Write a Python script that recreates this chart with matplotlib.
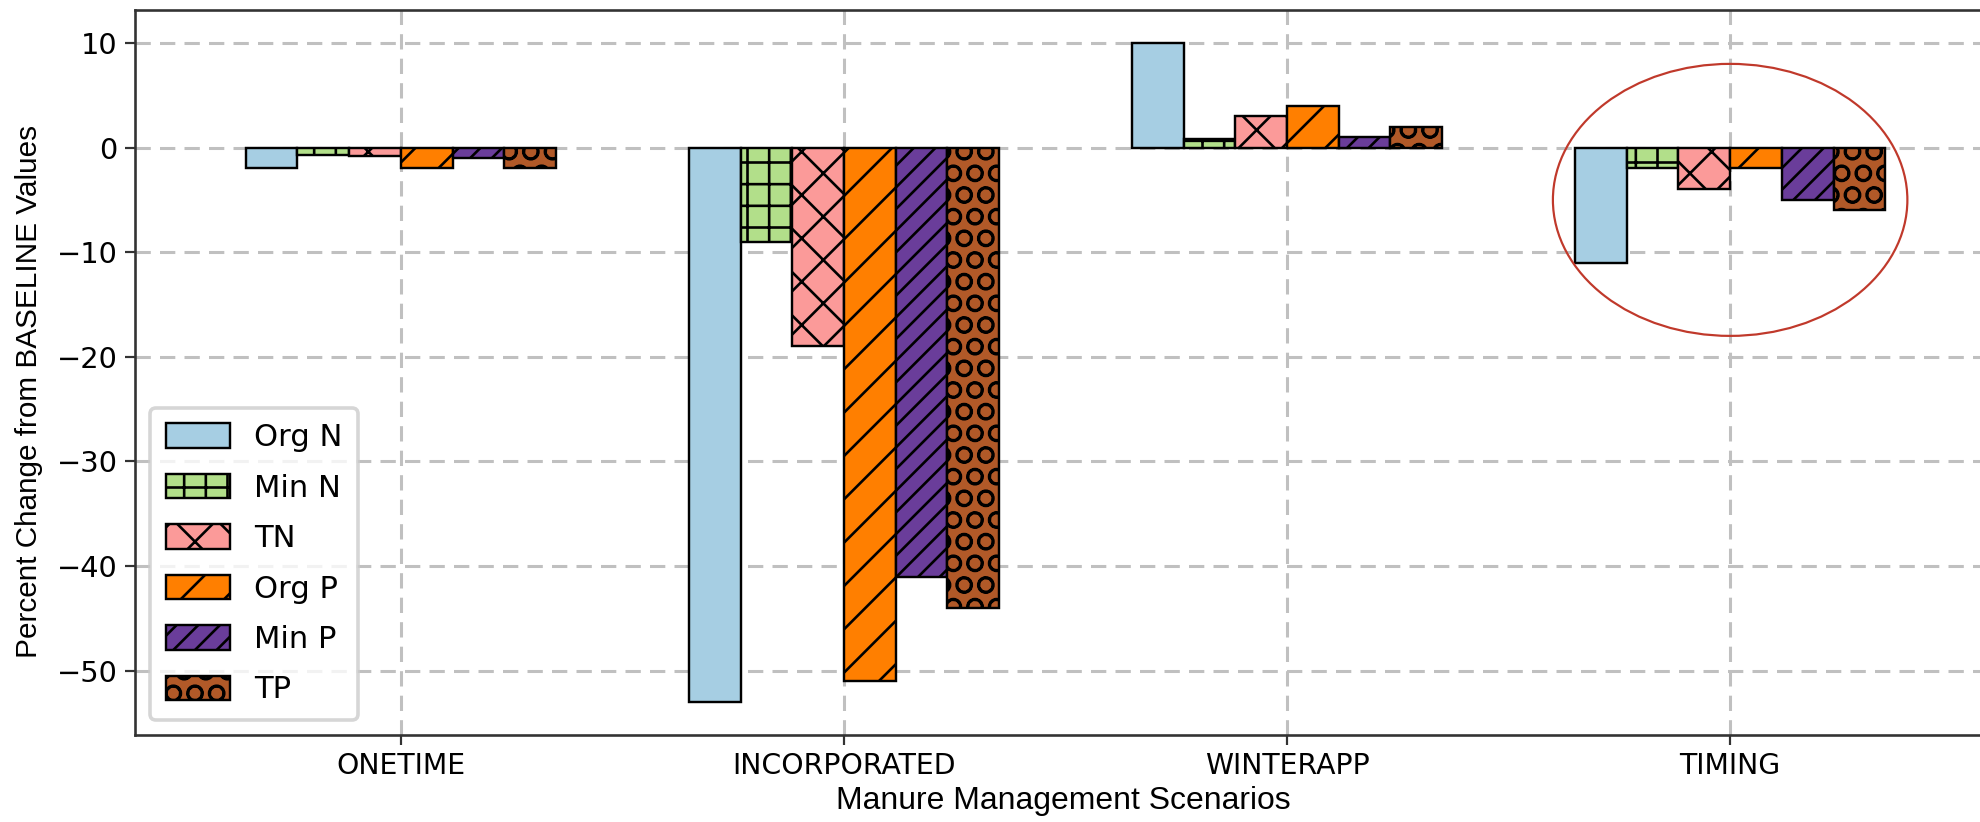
import matplotlib
matplotlib.use("Agg")
import matplotlib.pyplot as plt
import numpy as np
from matplotlib.patches import Ellipse

# data
scenarios = ["ONETIME", "INCORPORATED", "WINTERAPP", "TIMING"]
series = ["Org N", "Min N", "TN", "Org P", "Min P", "TP"]
org_n = [-2, -53, 10, -11]
min_n = [-0.7, -9, 0.8, -2]
tn = [-0.8, -19, 3, -4]
org_p = [-2, -51, 4, -2]
min_p = [-1, -41, 1, -5]
tp = [-2, -44, 2, -6]

colors = ["#a6cee3", "#b2df8a", "#fb9a99", "#ff7f00", "#6a3d9a", "#b15928"]
hatches = ["", "++", "xx", "//", "////", "OO"]

DPI = 260
k = 315 / DPI  # sizes below were tuned at 315 dpi
plt.rcParams['hatch.linewidth'] = 0.6 * k
plt.rcParams['font.family'] = 'DejaVu Sans'

fig = plt.figure(figsize=(1980 / DPI, 822 / DPI), dpi=DPI)
ax = fig.add_axes([135 / 1980, 87 / 822, 1861 / 1980, 725 / 822])

x = np.arange(len(scenarios))
width = 0.7 / len(series)
values = [org_n, min_n, tn, org_p, min_p, tp]
for i, (name, vals) in enumerate(zip(series, values)):
    ax.bar(x + (i - 2.5) * width, vals, width, label=name, color=colors[i],
           hatch=hatches[i], edgecolor="black", linewidth=0.55 * k, zorder=3)

ax.set_xlim(-0.6, 3.6)
ax.set_xticks(x)
ax.set_xticklabels(scenarios, fontsize=6.5 * k)
ax.tick_params(axis="y", labelsize=6.6 * k)
ax.tick_params(length=2.2 * k, width=0.5 * k, pad=1.8 * k, color="#333333")
ax.grid(True, linestyle=(0, (5, 3)), linewidth=0.7 * k, color="#c0c0c0", zorder=0)
for sp in ax.spines.values():
    sp.set_linewidth(0.6 * k)
    sp.set_color("#333333")

ax.set_xlabel("Manure Management Scenarios", family=["Liberation Sans", "DejaVu Sans"], fontsize=7.3 * k)
ax.set_ylabel("Percent Change from BASELINE Values", family=["Liberation Sans", "DejaVu Sans"], fontsize=6.8 * k)
ax.xaxis.set_label_coords(0.499, -0.070)
ax.yaxis.set_label_coords(-0.0494, 0.474)

ax.legend(loc="lower left", fontsize=7.0 * k, handlelength=2.1, handleheight=0.85,
          labelspacing=0.7, handletextpad=0.8, borderaxespad=0.5, borderpad=0.5)

# highlight around TIMING group
ell = Ellipse((3, -5.0), 0.80, 26.0, fill=False, edgecolor="#c0392b", linewidth=0.5 * k, zorder=5)
ax.add_patch(ell)

fig.savefig("out.png", dpi=DPI)
